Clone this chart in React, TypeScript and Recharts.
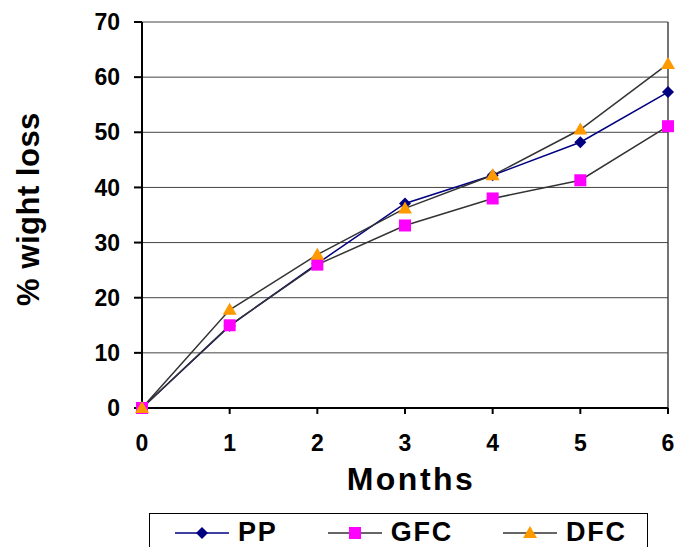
import React from 'react';
import { LineChart, Line, XAxis, YAxis, CartesianGrid, Legend, ReferenceLine } from 'recharts';

const months = [0, 1, 2, 3, 4, 5, 6];
const ppLoss = [0, 14.9, 26.2, 37.1, 42.2, 48.2, 57.3];
const gfcLoss = [0, 15.0, 26.0, 33.1, 38.0, 41.3, 51.1];
const dfcLoss = [0, 17.8, 27.8, 36.2, 42.2, 50.5, 62.4];
const yTicks = [0, 10, 20, 30, 40, 50, 60, 70];

const FONT = '"Liberation Sans", Arial, sans-serif';

const chartData = months.map((m, i) => ({
  month: m,
  PP: ppLoss[i],
  GFC: gfcLoss[i],
  DFC: dfcLoss[i],
}));

const COLORS = {
  ppLine: '#000080',
  ppMark: '#000080',
  gfcLine: '#333333',
  gfcMark: '#FF00FF',
  dfcLine: '#333333',
  dfcMark: '#FF9900',
  grid: '#444444',
};

const Diamond = ({ cx, cy }: any) => (
  <polygon points={`${cx},${cy - 6} ${cx + 6},${cy} ${cx},${cy + 6} ${cx - 6},${cy}`} fill={COLORS.ppMark} />
);
const Square = ({ cx, cy }: any) => (
  <rect x={cx - 6} y={cy - 6} width={12} height={12} fill={COLORS.gfcMark} />
);
const Triangle = ({ cx, cy }: any) => (
  <polygon points={`${cx},${cy - 7} ${cx + 7},${cy + 5} ${cx - 7},${cy + 5}`} fill={COLORS.dfcMark} />
);

const series = [
  { key: 'PP', line: COLORS.ppLine, Shape: Diamond },
  { key: 'GFC', line: COLORS.gfcLine, Shape: Square },
  { key: 'DFC', line: COLORS.dfcLine, Shape: Triangle },
];

// legend box runs off the bottom edge, so only its top part shows
const LegendBox = () => (
  <div
    style={{
      width: 499,
      height: 34,
      border: '1px solid #000',
      borderBottom: 'none',
      boxSizing: 'border-box',
      display: 'flex',
      alignItems: 'flex-start',
      paddingLeft: 25,
      paddingTop: 7,
      gap: 50,
      background: '#fff',
    }}
  >
    {series.map(({ key, line, Shape }) => (
      <div key={key} style={{ display: 'flex', alignItems: 'center', height: 22 }}>
        <svg width={54} height={16} style={{ display: 'block', marginTop: 2 }}>
          <line x1={0} y1={8} x2={54} y2={8} stroke={line} strokeWidth={1.5} />
          <Shape cx={27} cy={8} />
        </svg>
        <span
          style={{
            marginLeft: 9,
            fontFamily: FONT,
            fontWeight: 'bold',
            fontSize: 27,
            letterSpacing: 1.8,
            lineHeight: '22px',
            color: '#000',
          }}
        >
          {key}
        </span>
      </div>
    ))}
  </div>
);

const YLabel = ({ viewBox }: any) => {
  const x = viewBox.x + 28;
  const y = viewBox.y + viewBox.height / 2 - 6;
  return (
    <text
      x={x}
      y={y}
      transform={`rotate(-90, ${x}, ${y})`}
      textAnchor="middle"
      dominantBaseline="central"
      fontFamily={FONT}
      fontWeight="bold"
      fontSize={31}
      letterSpacing={0.5}
      fill="#000"
    >
      % wight loss
    </text>
  );
};

const XLabel = ({ viewBox }: any) => (
  <text
    x={viewBox.x + viewBox.width / 2 + 6}
    y={490}
    textAnchor="middle"
    fontFamily={FONT}
    fontWeight="bold"
    fontSize={32}
    letterSpacing={2.5}
    fill="#000"
  >
    Months
  </text>
);

const tickStyle = { fontFamily: FONT, fontWeight: 'bold', fontSize: 23, fill: '#000' };

export default function App() {
  return (
    <div style={{ position: 'absolute', left: 0, top: 0, width: 677, height: 547, background: '#fff' }}>
      <LineChart width={677} height={547} data={chartData} margin={{ top: 22, right: 9, left: 0, bottom: 0 }}>
        <CartesianGrid vertical={false} stroke={COLORS.grid} strokeWidth={1} />
        <ReferenceLine x={6} stroke={COLORS.grid} strokeWidth={1.5} />
        <XAxis
          dataKey="month"
          type="number"
          domain={[0, 6]}
          ticks={months}
          interval={0}
          height={139}
          stroke="#000"
          strokeWidth={2}
          tickSize={6}
          tickMargin={21}
          tick={tickStyle}
          label={<XLabel />}
        />
        <YAxis
          domain={[0, 70]}
          ticks={yTicks}
          interval={0}
          width={142}
          stroke="#000"
          strokeWidth={2}
          tickSize={8}
          tickMargin={14}
          tick={tickStyle}
          label={<YLabel />}
        />
        {series.map(({ key, line, Shape }) => (
          <Line
            key={key}
            dataKey={key}
            type="linear"
            stroke={line}
            strokeWidth={1.5}
            dot={(p: any) => <Shape key={`${key}-${p.index}`} cx={p.cx} cy={p.cy} />}
            activeDot={false}
            isAnimationActive={false}
          />
        ))}
        <Legend
          layout="vertical"
          align="center"
          verticalAlign="middle"
          wrapperStyle={{ top: 513, left: 149, width: 499, bottom: 'auto', right: 'auto' }}
          content={() => <LegendBox />}
        />
      </LineChart>
    </div>
  );
}
